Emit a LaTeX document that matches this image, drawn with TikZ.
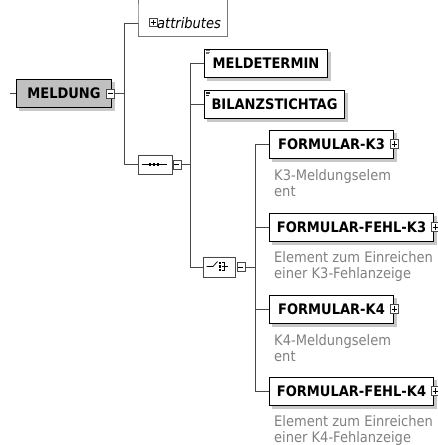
\documentclass[tikz,border=0pt]{standalone}
\usepackage{fontspec}
\setmainfont{DejaVu Sans}[FakeStretch=0.9]
\usetikzlibrary{shapes.misc}
\pgfdeclarelayer{bg}
\pgfsetlayers{bg,main}
\definecolor{linec}{RGB}{72,72,72}
\definecolor{descc}{RGB}{128,128,128}
\definecolor{shadc}{RGB}{200,200,200}
\definecolor{mfill}{RGB}{192,192,192}
\definecolor{attc}{RGB}{120,120,120}
\tikzset{
  conn/.style={draw=linec, line width=1pt},
  elembox/.style={draw=black, fill=white, line width=1pt, rectangle, minimum height=28pt,
    inner xsep=0pt, inner ysep=0pt, anchor=west,
    font=\bfseries\fontsize{14.5}{17}\selectfont, text height=10.6pt, text depth=0pt},
  desc/.style={text=descc, font=\fontsize{14.5}{16.5}\selectfont, align=left, anchor=north west, inner sep=0pt},
  pmbox/.style={draw=linec, fill=white, line width=0.8pt, minimum width=8pt, minimum height=9pt, inner sep=0pt},
  minusbox/.style={pmbox, path picture={\draw[line width=0.8pt,black] ([xshift=1.5pt]path picture bounding box.west) -- ([xshift=-1.5pt]path picture bounding box.east);}},
  plusbox/.style={pmbox, path picture={\draw[line width=0.8pt,black] ([xshift=1.5pt]path picture bounding box.west) -- ([xshift=-1.5pt]path picture bounding box.east);
      \draw[line width=0.8pt,black] ([yshift=-1.5pt]path picture bounding box.north) -- ([yshift=1.5pt]path picture bounding box.south);}},
  compbox/.style={chamfered rectangle, chamfered rectangle xsep=5pt, chamfered rectangle ysep=5pt,
    draw=linec, fill=white, line width=1pt, minimum width=34pt, minimum height=19pt, inner sep=0pt},
  iconln/.style={line width=0.7pt, black},
  shadowfill/.style={fill=shadc, draw=none}
}
\begin{document}
\begin{tikzpicture}[x=1pt,y=-1pt]
\useasboundingbox (0,0) rectangle (438,445);

% root element
\coordinate (in) at (10,93);
\node[elembox, fill=mfill, minimum width=95pt] (m) at (16,93) {MELDUNG};
\node[minusbox] (mminus) at (110.5,93.5) {};
\draw[conn] (in) -- (m.west);

% attributes
\node[minimum width=89pt, minimum height=26pt, inner sep=0pt, anchor=west] (att) at (138,23) {};
\draw[attc, line width=1pt] (att.north west) ++(0,-12) -- (att.north west) -- (att.south west) -- (att.south east) -- (att.north east) -- ++(0,-12);
\node[plusbox, minimum width=8pt, minimum height=8pt] (attplus) at (153,22) {};
\node[anchor=base west, inner sep=0pt, font=\itshape\fontsize{14.5}{17}\selectfont] (atttext) at (157,28) {attributes};

% trunk 1
\coordinate (t1a) at (124,23);
\coordinate (t1b) at (124,164.5);
\coordinate (t1m) at (124,93.5);
\draw[conn] (mminus.east) -- (t1m);
\draw[conn] (att.west) -- (t1a) -- (t1b);

% sequence
\node[compbox] (seq) at (155,164.5) {};
\node[minusbox, anchor=west] (seqminus) at (seq.east) {};
\draw[conn] (t1b) -- (seq.west);
\draw[iconln] (141.5,164.5) -- (167,164.5);
\foreach \xx in {150,154,158} \fill (\xx-1.3,163.2) rectangle (\xx+1.3,165.8);

% trunk 2
\node[elembox, minimum width=123pt] (melde) at (204,63) {MELDETERMIN};
\node[elembox, minimum width=140pt] (bilanz) at (204,104.5) {BILANZSTICHTAG};
\draw[line width=0.6pt, black!55] (206,50.3) -- (210,50.3) (206,51.8) -- (210,51.8) (206,53.3) -- (209,53.3);
\draw[line width=0.6pt, black!85] (206,91.8) -- (210,91.8) (206,93.3) -- (210,93.3) (206,94.8) -- (209,94.8);
\coordinate (t2a) at (190,63);
\coordinate (t2b) at (190,267);
\draw[conn] (melde.west) -- (t2a) -- (t2b);
\draw[conn] (bilanz.west) -- (bilanz.west -| t2a);
\draw[conn] (seqminus.east) -- (seqminus.east -| t2a);

% choice
\node[compbox, minimum width=32pt, minimum height=20pt] (choice) at (219,267) {};
\node[minusbox, anchor=west] (choiceminus) at ([xshift=1pt]choice.east) {};
\draw[conn] (t2b) -- (choice.west);
\draw[iconln] (206.5,266.5) -- (213,266.5) -- (217.5,261.5);
\foreach \yy in {262.8,266.5,270.2} \fill (218.8,\yy-1.2) rectangle (221.2,\yy+1.2);
\draw[iconln] (222,262.8) -- (224.5,262.8) -- (224.5,270.2) -- (222,270.2);
\draw[iconln] (222,266.5) -- (228,266.5);

% trunk 3
\node[elembox, minimum width=124pt] (k3) at (269,144) {FORMULAR-K3};
\node[plusbox] (k3plus) at ([xshift=0.5pt]k3.east) {};
\node[desc] (k3d) at (274,169) {K3-Meldungselem\\ent};
\node[elembox, minimum width=164pt] (fk3) at (269,227) {FORMULAR-FEHL-K3};
\node[plusbox] (fk3plus) at ([xshift=1pt]fk3.east) {};
\node[desc] (fk3d) at (274,251) {Element zum Einreichen\\einer K3-Fehlanzeige};
\node[elembox, minimum width=124pt] (k4) at (269,309) {FORMULAR-K4};
\node[plusbox] (k4plus) at ([xshift=0.5pt]k4.east) {};
\node[desc] (k4d) at (274,334) {K4-Meldungselem\\ent};
\node[elembox, minimum width=164pt] (fk4) at (269,391) {FORMULAR-FEHL-K4};
\node[plusbox] (fk4plus) at ([xshift=1pt]fk4.east) {};
\node[desc] (fk4d) at (274,415) {Element zum Einreichen\\einer K4-Fehlanzeige};
\coordinate (t3a) at (255,144);
\coordinate (t3b) at (255,391);
\draw[conn] (k3.west) -- (t3a) -- (t3b) -- (fk4.west);
\draw[conn] (fk3.west) -- (fk3.west -| t3a);
\draw[conn] (k4.west) -- (k4.west -| t3a);
\draw[conn] (choiceminus.east) -- (choiceminus.east -| t3a);

% shadows
\begin{pgfonlayer}{bg}
\foreach \nn in {m,melde,bilanz,k3,fk3,k4,fk4}
  \fill[shadowfill] ([shift={(3,3)}]\nn.north west) rectangle ([shift={(3,3)}]\nn.south east);
\foreach \nn in {seq,choice}
  \fill[shadowfill, shift={(3,3)}] (\nn.north west) ++(0,0) -- ([xshift=-5pt]\nn.north east) -- ([yshift=-5pt]\nn.east) -- ([yshift=5pt]\nn.east) -- ([xshift=-5pt]\nn.south east) -- ([xshift=5pt]\nn.south west) -- cycle;
\end{pgfonlayer}
\end{tikzpicture}
\end{document}
